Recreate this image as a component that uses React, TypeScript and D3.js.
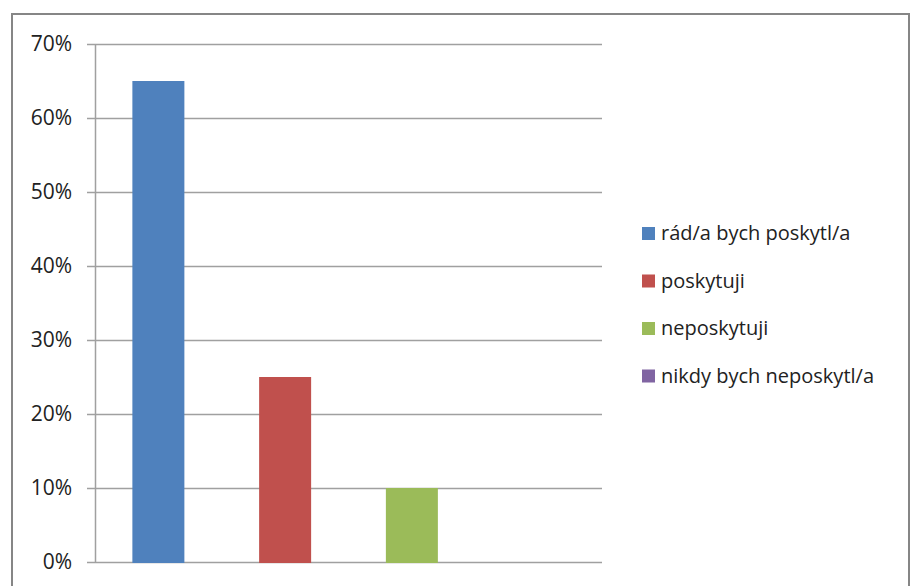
import React, { useEffect, useRef } from "react";
import * as d3 from "d3";

const categories = [
  "rád/a bych poskytl/a",
  "poskytuji",
  "neposkytuji",
  "nikdy bych neposkytl/a",
];
const values = [0.65, 0.25, 0.1, 0];
const colors = ["#4F81BD", "#C0504D", "#9BBB59", "#8064A2"];
const ticks = [0, 0.1, 0.2, 0.3, 0.4, 0.5, 0.6, 0.7];

function App() {
  const ref = useRef<SVGSVGElement | null>(null);

  useEffect(() => {
    const svg = d3.select(ref.current);
    svg.selectAll("*").remove();
    const font = "'Open Sans', sans-serif";

    // outer frame
    svg
      .append("rect")
      .attr("x", 12)
      .attr("y", 14)
      .attr("width", 897)
      .attr("height", 600)
      .attr("fill", "white")
      .attr("stroke", "#868686")
      .attr("stroke-width", 2);

    const x = d3.scaleBand<string>().domain(categories).range([95, 602]);
    const y = d3.scaleLinear().domain([0, 0.7]).range([562, 44]);

    // grid
    ticks.forEach((t) => {
      svg
        .append("line")
        .attr("x1", 87)
        .attr("x2", 602)
        .attr("y1", Math.round(y(t)) + 0.5)
        .attr("y2", Math.round(y(t)) + 0.5)
        .attr("stroke", "#a0a0a0")
        .attr("stroke-width", 1.5);
      svg
        .append("text")
        .attr("x", 72)
        .attr("y", y(t))
        .attr("dy", "0.35em")
        .attr("text-anchor", "end")
        .attr("font-family", font)
        .attr("font-size", 21)
        .attr("fill", "#222")
        .text(d3.format(".0%")(t));
    });

    svg
      .append("line")
      .attr("x1", 95.5)
      .attr("x2", 95.5)
      .attr("y1", 44)
      .attr("y2", 562)
      .attr("stroke", "#a0a0a0")
      .attr("stroke-width", 1.5);

    const bw = 52;
    categories.forEach((c, i) => {
      if (values[i] <= 0) return;
      const cx = (x(c) as number) + x.bandwidth() / 2;
      svg
        .append("rect")
        .attr("x", cx - bw / 2)
        .attr("y", y(values[i]))
        .attr("width", bw)
        .attr("height", y(0) - y(values[i]) + 1)
        .attr("fill", colors[i]);
    });

    // legend
    categories.forEach((c, i) => {
      const ly = 233 + i * 47.5;
      svg
        .append("rect")
        .attr("x", 642)
        .attr("y", ly - 6)
        .attr("width", 13)
        .attr("height", 13)
        .attr("fill", colors[i]);
      svg
        .append("text")
        .attr("x", 661)
        .attr("y", ly)
        .attr("dy", "0.35em")
        .attr("font-family", font)
        .attr("font-size", 20)
        .attr("fill", "#222")
        .text(c);
    });
  }, []);

  return (
    <svg
      ref={ref}
      width={912}
      height={586}
      style={{ position: "absolute", left: 0, top: 0, background: "white" }}
    />
  );
}

export default App;
